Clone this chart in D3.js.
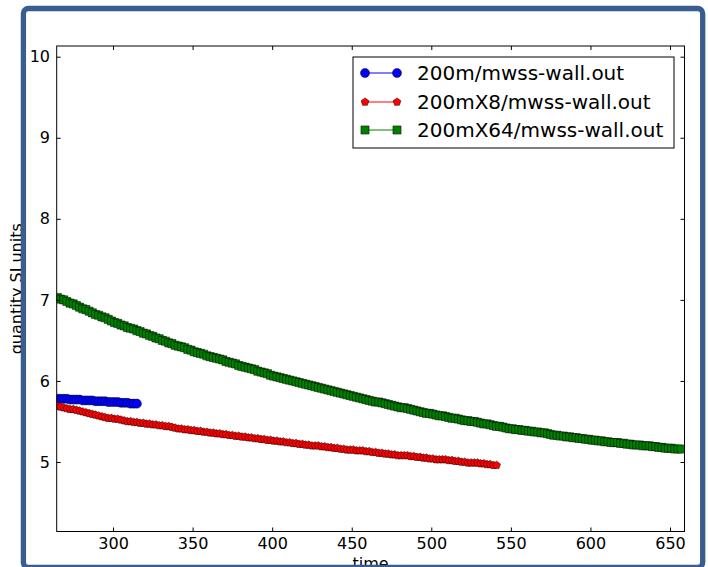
<!DOCTYPE html>
<html>
<head>
<meta charset="utf-8">
<script src="https://cdn.jsdelivr.net/npm/d3@7/dist/d3.min.js"></script>
<style>
body{margin:0;background:#fff;}
svg{display:block;font-family:'DejaVu Sans',sans-serif;}
</style>
</head>
<body>
<script>
// sample times (shared by all three outputs)
var time=[265,267,269,271,273,275,277,279,281,283,285,287,289,291,293,295,297,299,301,303,
305,307,309,311,313,315,317,319,321,323,325,327,329,331,333,335,337,339,341,343,
345,347,349,351,353,355,357,359,361,363,365,367,369,371,373,375,377,379,381,383,
385,387,389,391,393,395,397,399,401,403,405,407,409,411,413,415,417,419,421,423,
425,427,429,431,433,435,437,439,441,443,445,447,449,451,453,455,457,459,461,463,
465,467,469,471,473,475,477,479,481,483,485,487,489,491,493,495,497,499,501,503,
505,507,509,511,513,515,517,519,521,523,525,527,529,531,533,535,537,539,541,543,
545,547,549,551,553,555,557,559,561,563,565,567,569,571,573,575,577,579,581,583,
585,587,589,591,593,595,597,599,601,603,605,607,609,611,613,615,617,619,621,623,
625,627,629,631,633,635,637,639,641,643,645,647,649,651,653,655,657];

var blueVals=[5.78,5.78,5.78,5.78,5.77,5.77,5.77,5.77,5.76,5.76,5.76,5.76,5.75,5.75,5.75,5.75,5.74,5.74,5.74,5.74,
5.73,5.73,5.73,5.72,5.72,5.72];

var redVals=[5.69,5.68,5.67,5.66,5.65,5.65,5.64,5.63,5.62,5.61,5.60,5.59,5.58,5.57,5.56,5.55,5.54,5.54,5.53,5.53,
5.52,5.51,5.50,5.50,5.49,5.49,5.48,5.48,5.47,5.47,5.46,5.46,5.45,5.45,5.44,5.44,5.43,5.42,5.41,5.41,
5.40,5.40,5.39,5.39,5.38,5.38,5.37,5.37,5.36,5.36,5.35,5.35,5.34,5.34,5.33,5.33,5.32,5.32,5.31,5.31,
5.30,5.30,5.29,5.29,5.28,5.28,5.27,5.27,5.26,5.26,5.25,5.25,5.24,5.24,5.23,5.23,5.22,5.22,5.21,5.21,
5.20,5.20,5.20,5.19,5.19,5.18,5.18,5.17,5.17,5.16,5.16,5.15,5.15,5.15,5.14,5.14,5.14,5.13,5.13,5.12,
5.12,5.11,5.11,5.10,5.10,5.09,5.09,5.08,5.08,5.08,5.08,5.07,5.07,5.06,5.06,5.05,5.05,5.04,5.04,5.03,
5.03,5.03,5.03,5.02,5.02,5.01,5.01,5.00,5.00,4.99,4.99,4.99,4.99,4.98,4.98,4.97,4.97,4.96,4.96];

var greenVals=[7.03,7.01,7.00,6.98,6.96,6.95,6.93,6.91,6.89,6.88,6.86,6.84,6.82,6.81,6.79,6.78,6.76,6.74,6.72,6.71,
6.69,6.68,6.66,6.65,6.64,6.62,6.61,6.59,6.58,6.56,6.55,6.53,6.52,6.50,6.49,6.47,6.46,6.44,6.43,6.42,
6.41,6.39,6.38,6.36,6.35,6.34,6.33,6.31,6.30,6.29,6.28,6.27,6.26,6.24,6.23,6.22,6.21,6.19,6.18,6.17,
6.16,6.15,6.14,6.12,6.11,6.10,6.09,6.07,6.06,6.05,6.04,6.03,6.02,6.01,6.00,5.99,5.98,5.97,5.96,5.95,
5.94,5.93,5.92,5.91,5.90,5.89,5.88,5.87,5.86,5.85,5.84,5.83,5.82,5.81,5.80,5.79,5.78,5.77,5.76,5.75,
5.74,5.74,5.73,5.72,5.71,5.70,5.69,5.68,5.67,5.67,5.66,5.65,5.64,5.63,5.62,5.61,5.60,5.60,5.59,5.58,
5.57,5.57,5.56,5.55,5.54,5.54,5.53,5.52,5.51,5.51,5.50,5.50,5.49,5.48,5.47,5.47,5.46,5.45,5.44,5.44,
5.43,5.42,5.41,5.41,5.40,5.40,5.39,5.39,5.38,5.38,5.37,5.37,5.36,5.36,5.35,5.34,5.33,5.33,5.32,5.32,
5.31,5.31,5.30,5.30,5.29,5.29,5.28,5.28,5.27,5.27,5.26,5.26,5.25,5.25,5.24,5.24,5.24,5.23,5.23,5.22,
5.22,5.21,5.21,5.21,5.20,5.20,5.20,5.19,5.19,5.18,5.18,5.17,5.17,5.17,5.16,5.16,5.16];

var seriesNames=['200m/mwss-wall.out','200mX8/mwss-wall.out','200mX64/mwss-wall.out'];
var seriesColors=['#0000ff','#ff0000','#008000'];
var xTicks=[300,350,400,450,500,550,600,650];
var yTicks=[5,6,7,8,9,10];

function drawChart(){
    var width=708,height=567;
    var pLeft=56.7,pRight=684.5,pTop=46,pBottom=531.5;

    var svg=d3.select('body').append('svg')
    .attr('width',width)
    .attr('height',height);

    var xScale=d3.scaleLinear().domain([264.6,659.1]).range([pLeft,pRight]);
    var yScale=d3.scaleLinear().domain([4.1426,10.132]).range([pBottom,pTop]);

    svg.append('defs').append('clipPath').attr('id','plotclip')
    .append('rect')
    .attr('x',pLeft).attr('y',pTop)
    .attr('width',pRight-pLeft).attr('height',pBottom-pTop);

    // pentagon marker like matplotlib 'p'
    var pentagon={
        draw:function(context,size){
            var r=Math.sqrt(size)*0.62;
            for(var i=0;i<5;i++){
                var a=-Math.PI/2+i*2*Math.PI/5;
                var px=r*Math.cos(a),py=r*Math.sin(a);
                if(i==0) context.moveTo(px,py); else context.lineTo(px,py);
            }
            context.closePath();
        }
    };
    var symbols=[d3.symbol().type(d3.symbolCircle).size(64),
                 d3.symbol().type(pentagon).size(44),
                 d3.symbol().type(d3.symbolSquare).size(66)];

    var allVals=[blueVals,redVals,greenVals];

    var plot=svg.append('g').attr('clip-path','url(#plotclip)');

    var line=d3.line()
    .x(function(d){return xScale(d.t);})
    .y(function(d){return yScale(d.v);});

    allVals.forEach(function(vals,i){
        var pts=vals.map(function(v,j){return {t:time[j],v:v};})
        .filter(function(d){return d.t!==undefined;});
        var g=plot.append('g');
        g.append('path')
        .datum(pts)
        .attr('d',line)
        .attr('fill','none')
        .attr('stroke',seriesColors[i])
        .attr('stroke-width',1);
        g.selectAll('path.mk')
        .data(pts)
        .enter()
        .append('path')
        .attr('class','mk')
        .attr('d',symbols[i])
        .attr('transform',function(d){return 'translate('+xScale(d.t)+','+yScale(d.v)+')';})
        .attr('fill',seriesColors[i])
        .attr('stroke','#000')
        .attr('stroke-width',0.5);
    });

    // axes, matplotlib style ticks pointing inward on all four sides
    svg.append('g')
    .attr('transform','translate(0,'+pBottom+')')
    .call(d3.axisBottom(xScale).tickValues(xTicks).tickSize(-4).tickPadding(6.4).tickFormat(d3.format('d')));
    svg.append('g')
    .attr('transform','translate(0,'+pTop+')')
    .call(d3.axisTop(xScale).tickValues(xTicks).tickSize(-4).tickFormat(''));
    svg.append('g')
    .attr('transform','translate('+pLeft+',0)')
    .call(d3.axisLeft(yScale).tickValues(yTicks).tickSize(-4).tickPadding(6.7).tickFormat(d3.format('d')));
    svg.append('g')
    .attr('transform','translate('+pRight+',0)')
    .call(d3.axisRight(yScale).tickValues(yTicks).tickSize(-4).tickFormat(''));

    svg.selectAll('.domain').remove();
    svg.selectAll('.tick line').attr('stroke','#000');
    svg.selectAll('.tick text')
    .attr('fill','#000')
    .style('font-size','16px')
    .style('font-family',"'DejaVu Sans',sans-serif");

    svg.append('rect')
    .attr('x',pLeft).attr('y',pTop)
    .attr('width',pRight-pLeft).attr('height',pBottom-pTop)
    .attr('fill','none')
    .attr('stroke','#000')
    .attr('stroke-width',1);

    svg.append('text')
    .attr('x',(pLeft+pRight)/2)
    .attr('y',569)
    .attr('text-anchor','middle')
    .style('font-size','16px')
    .text('time');

    svg.append('text')
    .attr('transform','translate(21.7,'+((pTop+pBottom)/2)+') rotate(-90)')
    .attr('text-anchor','middle')
    .style('font-size','16px')
    .text('quantity SI units');

    // legend
    var legend=svg.append('g').attr('id','legend');
    legend.append('rect')
    .attr('x',353).attr('y',57)
    .attr('width',321).attr('height',91)
    .attr('fill','#fff')
    .attr('stroke','#000')
    .attr('stroke-width',1);
    var rowY=[73,102,130];
    seriesNames.forEach(function(name,i){
        var row=legend.append('g').attr('transform','translate(0,'+rowY[i]+')');
        row.append('line')
        .attr('x1',365).attr('x2',397)
        .attr('stroke',seriesColors[i])
        .attr('stroke-width',1);
        [365,397].forEach(function(mx){
            row.append('path')
            .attr('d',symbols[i])
            .attr('transform','translate('+mx+',0)')
            .attr('fill',seriesColors[i])
            .attr('stroke','#000')
            .attr('stroke-width',0.5);
        });
        row.append('text')
        .attr('x',417)
        .attr('y',7)
        .style('font-size','20px')
        .text(name);
    });

    // blue frame around the figure
    svg.append('rect')
    .attr('x',23.4).attr('y',8.5)
    .attr('width',702.7-23.4).attr('height',567.5-8.5)
    .attr('rx',5).attr('ry',5)
    .attr('fill','none')
    .attr('stroke','#3a5d8f')
    .attr('stroke-width',5.3);
}
drawChart();
</script>
</body>
</html>
